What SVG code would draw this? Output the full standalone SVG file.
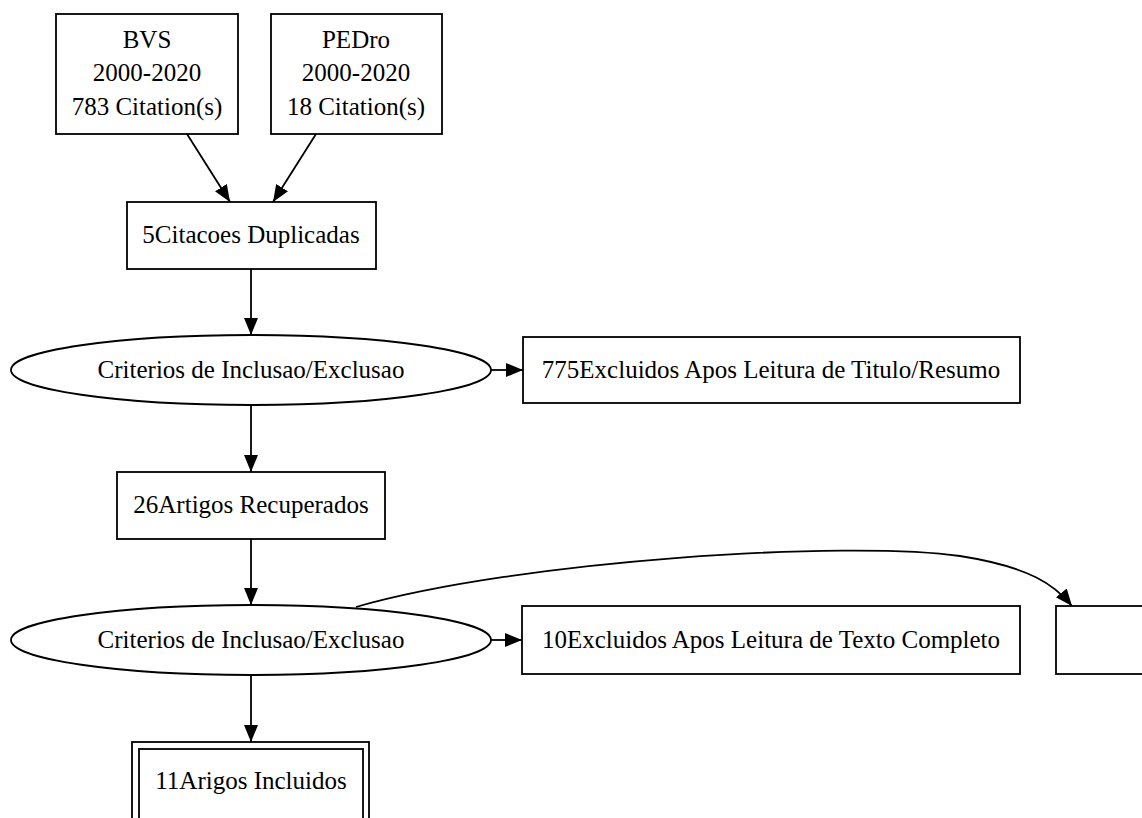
<svg xmlns="http://www.w3.org/2000/svg" width="1142" height="818" viewBox="0 0 1142 818">
<defs>
<style>
.n{fill:#fff;stroke:#000;stroke-width:1.8}
.t{font-family:"Liberation Serif","Times New Roman",serif;font-size:25px;fill:#000;text-anchor:middle}
.e{fill:none;stroke:#000;stroke-width:1.8}
</style>
<marker id="ah" markerUnits="userSpaceOnUse" markerWidth="18" markerHeight="16" viewBox="0 0 18 16" refX="17" refY="8" orient="auto">
<path d="M0,1 L17,8 L0,15 Z" fill="#000"/>
</marker>
</defs>
<rect width="1142" height="818" fill="#fff"/>
<g id="connectors">
<line class="e" x1="187" y1="134" x2="230" y2="202" marker-end="url(#ah)"/>
<line class="e" x1="316" y1="134" x2="273" y2="202" marker-end="url(#ah)"/>
<line class="e" x1="251" y1="269" x2="251" y2="335" marker-end="url(#ah)"/>
<line class="e" x1="491" y1="370" x2="523" y2="370" marker-end="url(#ah)"/>
<line class="e" x1="251" y1="405" x2="251" y2="472" marker-end="url(#ah)"/>
<line class="e" x1="251" y1="539" x2="251" y2="605" marker-end="url(#ah)"/>
<line class="e" x1="491" y1="640" x2="522" y2="640" marker-end="url(#ah)"/>
<path class="e" d="M356,607 C520,560 850,540 960,556 C1030,567 1055,585 1072,606" marker-end="url(#ah)"/>
<line class="e" x1="251" y1="675" x2="251" y2="742" marker-end="url(#ah)"/>
</g>
<g id="bvs">
<rect class="n" x="56" y="14" width="182" height="120"/>
<text class="t" x="147" y="48">BVS</text>
<text class="t" x="147" y="81">2000-2020</text>
<text class="t" x="147" y="115">783 Citation(s)</text>
</g>
<g id="pedro">
<rect class="n" x="271" y="14" width="171" height="120"/>
<text class="t" x="356" y="48">PEDro</text>
<text class="t" x="356" y="81">2000-2020</text>
<text class="t" x="356" y="115">18 Citation(s)</text>
</g>
<g id="dup">
<rect class="n" x="127" y="202" width="249" height="67"/>
<text class="t" x="251" y="243">5Citacoes Duplicadas</text>
</g>
<g id="crit1">
<ellipse class="n" cx="251" cy="370" rx="240" ry="35"/>
<text class="t" x="251" y="378">Criterios de Inclusao/Exclusao</text>
</g>
<g id="excl1">
<rect class="n" x="523" y="337" width="497" height="66"/>
<text class="t" x="771" y="378">775Excluidos Apos Leitura de Titulo/Resumo</text>
</g>
<g id="recup">
<rect class="n" x="117" y="472" width="268" height="67"/>
<text class="t" x="251" y="513">26Artigos Recuperados</text>
</g>
<g id="crit2">
<ellipse class="n" cx="251" cy="640" rx="240" ry="35"/>
<text class="t" x="251" y="648">Criterios de Inclusao/Exclusao</text>
</g>
<g id="excl2">
<rect class="n" x="522" y="606" width="498" height="68"/>
<text class="t" x="771" y="648">10Excluidos Apos Leitura de Texto Completo</text>
</g>
<g id="extra">
<rect class="n" x="1056" y="606" width="100" height="68"/>
</g>
<g id="incl">
<rect class="n" x="132" y="742" width="237" height="90"/>
<rect class="n" x="139" y="749" width="224" height="80"/>
<text class="t" x="251" y="789">11Arigos Incluidos</text>
</g>
</svg>
